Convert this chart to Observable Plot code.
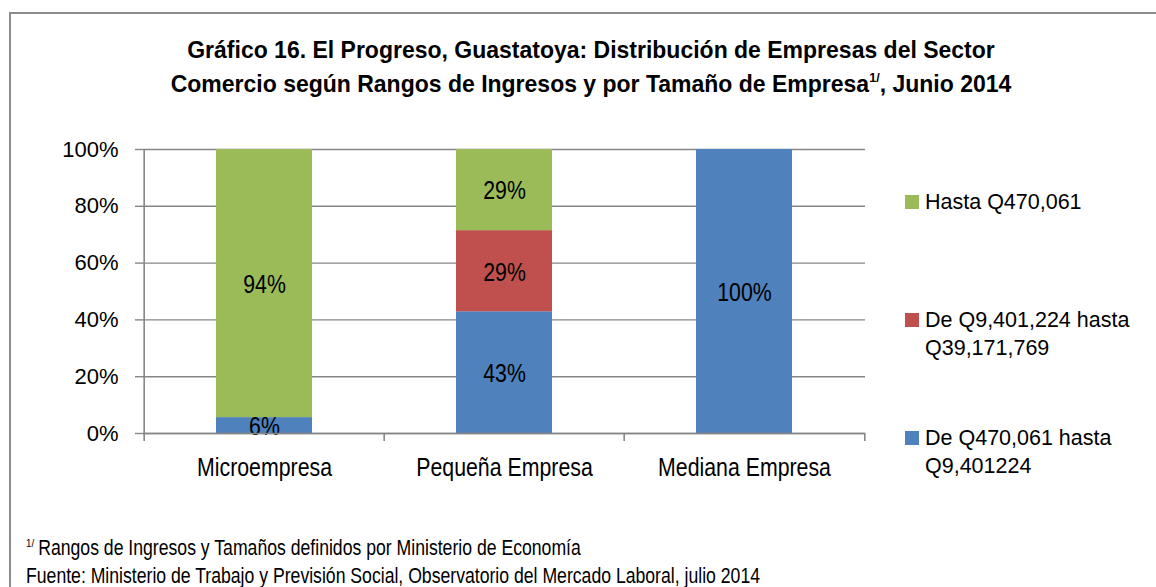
<!DOCTYPE html>
<html><head><meta charset="utf-8">
<script src="https://cdn.jsdelivr.net/npm/d3@7"></script>
<script src="https://cdn.jsdelivr.net/npm/@observablehq/plot@0.6"></script>
<style>
body{margin:0;background:#fff;}
#wrap{position:relative;width:1156px;height:587px;overflow:hidden;background:#fff;font-family:"Liberation Sans",Arial,sans-serif;}
#box{position:absolute;left:9px;top:12px;width:1200px;height:700px;border-left:2px solid #8c8c8c;border-top:2px solid #8c8c8c;}
#title{position:absolute;left:0;width:1182px;top:33px;text-align:center;font-weight:bold;font-size:24px;line-height:34px;color:#000;transform:scaleX(0.958);transform-origin:50% 0;}
#title sup{font-size:0.55em;vertical-align:0;position:relative;top:-0.75em;}
#chart{position:absolute;left:0;top:0;}
.leg{position:absolute;left:905px;font-size:21.5px;line-height:28px;color:#000;}
.leg .sw{position:absolute;left:0;top:7px;width:14px;height:14px;}
.leg .tx{position:absolute;left:20px;top:0;white-space:nowrap;}
#foot{position:absolute;left:26px;top:536px;font-size:21.5px;line-height:25px;color:#000;white-space:nowrap;transform:scaleX(0.82);transform-origin:0 0;}
#foot sup{font-size:0.55em;vertical-align:0;position:relative;top:-0.7em;margin-right:5px;}
</style></head>
<body>
<div id="wrap">
  <div id="box"></div>
  <div id="title"></div>
  <div id="chart"></div>
  <div id="legend"></div>
  <div id="foot"></div>
</div>
<script>
// ---- data ----
const categories = ["Microempresa", "Pequeña Empresa", "Mediana Empresa"];
const seriesNames = ["De Q470,061 hasta Q9,401224", "De Q9,401,224 hasta Q39,171,769", "Hasta Q470,061"];
const seriesColors = ["#4F81BD", "#C0504D", "#9BBB59"];
const valuesBlue  = [5.6, 42.86, 100];   // De Q470,061 hasta Q9,401224
const valuesRed   = [0, 28.57, 0];       // De Q9,401,224 hasta Q39,171,769
const valuesGreen = [94.4, 28.57, 0];    // Hasta Q470,061
const yTicks = [0, 20, 40, 60, 80, 100];
const legendLines = [["Hasta Q470,061"], ["De Q9,401,224 hasta", "Q39,171,769"], ["De Q470,061 hasta", "Q9,401224"]];
const legendSeries = [2, 1, 0];

const titleHTML = "Gráfico 16. El Progreso, Guastatoya: Distribución de Empresas del Sector<br>Comercio según Rangos de Ingresos y por Tamaño de Empresa<sup>1/</sup>, Junio 2014";
const footHTML = "<sup>1/</sup>Rangos de Ingresos y Tamaños definidos por Ministerio de Economía<br>Fuente: Ministerio de Trabajo y Previsión Social, Observatorio del Mercado Laboral, julio 2014";

// ---- table ----
const seriesValues = [valuesBlue, valuesRed, valuesGreen];
const rows = [];
seriesNames.forEach((s, si) => categories.forEach((c, ci) => {
  rows.push({cat: c, series: s, value: seriesValues[si][ci]});
}));
const labelRows = rows.filter(d => d.value > 0);

const W = 1156, H = 500, ML = 143, MR = 291, MT = 149, MB = 67;
const step = (W - ML - MR) / categories.length;
const gray = "#868686";
const font = '"Liberation Sans",Arial,sans-serif';

const chart = Plot.plot({
  width: W, height: H,
  marginLeft: ML, marginRight: MR, marginTop: MT, marginBottom: MB,
  style: {background: "transparent", overflow: "visible", fontFamily: font},
  x: {type: "band", domain: categories, paddingInner: 0.6, paddingOuter: 0.3, label: null},
  y: {domain: [0, 100], label: null},
  color: {domain: seriesNames, range: seriesColors},
  marks: [
    Plot.gridY(yTicks, {stroke: gray, strokeOpacity: 1, strokeWidth: 1.4}),
    Plot.axisY(yTicks, {tickSize: 8, text: null, stroke: gray, strokeWidth: 1.4, strokeOpacity: 1}),
    Plot.axisY(yTicks, {tickSize: 0, tickPadding: 25, tickFormat: d => d + "%", fontSize: 22, fill: "#000"}),
    Plot.barY(rows, {x: "cat", y: "value", fill: "series", order: seriesNames}),
    Plot.text(labelRows, Plot.stackY({x: "cat", y: "value", z: "series", order: seriesNames,
      text: d => Math.round(d.value) + "%", fontSize: 26, fill: "#000", dy: 1})),
    // axis lines
    Plot.ruleY([0], {stroke: gray, strokeWidth: 1.6}),
    Plot.ruleX([categories[0]], {x: d => d, y1: 0, y2: 100, dx: -step / 2, stroke: gray, strokeWidth: 1.6}),
    // category boundary ticks
    Plot.ruleX(categories, {x: d => d, y1: 0, y2: -2.8, dx: -step / 2, stroke: gray, strokeWidth: 1.6}),
    Plot.ruleX([categories[categories.length - 1]], {x: d => d, y1: 0, y2: -2.8, dx: step / 2, stroke: gray, strokeWidth: 1.6}),
    Plot.axisX({tickSize: 0, tickPadding: 24, fontSize: 26, fill: "#000", label: null})
  ]
});
document.getElementById("chart").appendChild(chart);

// condense the 26px texts (bar labels and category labels) to narrow proportions
function condense(el, s) {
  const tr = el.getAttribute("transform");
  if (tr) {
    el.setAttribute("transform", tr + ` scale(${s},1)`);
  } else {
    const x = +el.getAttribute("x") || 0, y = +el.getAttribute("y") || 0;
    el.setAttribute("x", 0); el.setAttribute("y", 0);
    el.setAttribute("transform", `translate(${x},${y}) scale(${s},1)`);
  }
}
chart.querySelectorAll('g[font-size="26"] text').forEach(el => condense(el, 0.82));

document.getElementById("title").innerHTML = titleHTML;
document.getElementById("foot").innerHTML = footHTML;

const legendTops = [188, 306, 424];
const legend = document.getElementById("legend");
legendLines.forEach((lines, i) => {
  const el = document.createElement("div");
  el.className = "leg";
  el.style.top = legendTops[i] + "px";
  el.innerHTML = `<div class="sw" style="background:${seriesColors[legendSeries[i]]}"></div><div class="tx">${lines.join("<br>")}</div>`;
  legend.appendChild(el);
});
</script>
</body></html>
